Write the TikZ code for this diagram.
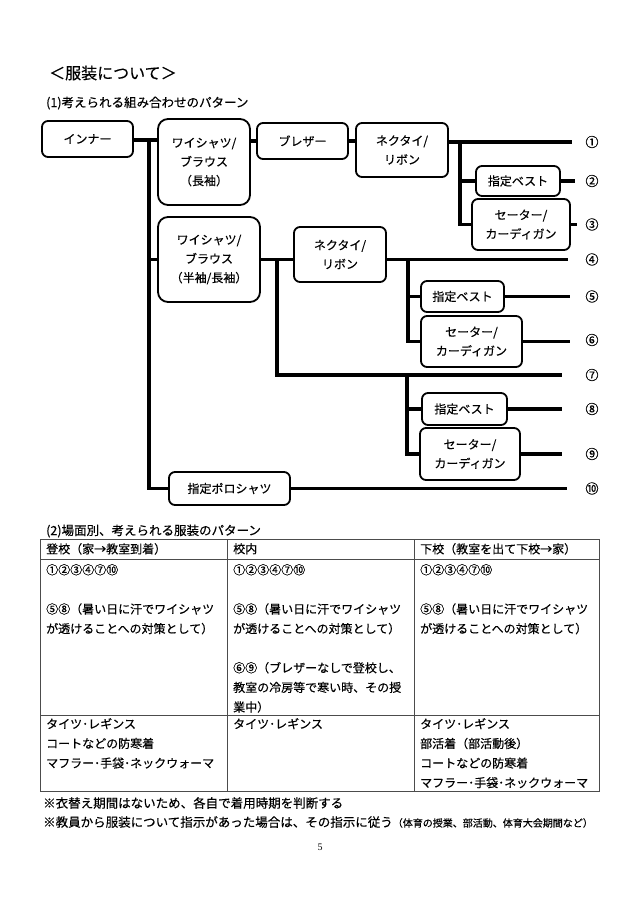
\documentclass[tikz,border=0pt]{standalone}
\usepackage{fontspec}
\setmainfont{Noto Sans CJK JP}[FakeBold=0.35]
\newfontfamily\pagenumfont{Liberation Serif}
\begin{document}
\begin{tikzpicture}[x=1pt,y=-1pt,
  box/.style={draw, line width=1.8pt, rounded corners=6pt, align=center,
    font=\fontsize{12}{19}\selectfont, inner sep=0pt},
  bigbox/.style={box, rounded corners=10pt},
  conn/.style={line width=3.8pt},
  num/.style={font=\fontsize{13}{13}\selectfont, inner sep=0pt},
  tline/.style={line width=0.9pt, draw=black!70},
  ttext/.style={anchor=north west, inner sep=0pt, align=left,
    font=\fontsize{12}{19.6}\selectfont},
  heading/.style={anchor=west, inner sep=0pt}
]
\useasboundingbox (0,0) rectangle (640,904);
\fill[white] (0,0) rectangle (640,904);

% headings
\node[heading, font=\fontsize{16}{16}\selectfont] (title) at (49,73) {＜服装について＞};
\node[heading, font=\fontsize{12.5}{12.5}\selectfont] (sec1) at (46,103) {(1)考えられる組み合わせのパターン};

% boxes
\node[box, minimum width=91pt, minimum height=36pt] (inner) at (87.5,139) {インナー};
\node[bigbox, minimum width=92pt, minimum height=86pt] (ws1) at (204,162) {ワイシャツ/\\ブラウス\\（長袖）};
\node[box, minimum width=91pt, minimum height=36pt] (blazer) at (302.5,141) {ブレザー};
\node[box, minimum width=92pt, minimum height=54pt] (tie1) at (402,150) {ネクタイ/\\リボン};
\node[box, minimum width=84pt, minimum height=30pt] (vest1) at (518,181) {指定ベスト};
\node[box, minimum width=98pt, minimum height=51pt] (sw1) at (521,224.5) {セーター/\\カーディガン};
\node[bigbox, minimum width=102pt, minimum height=85pt] (ws2) at (209,259.5) {ワイシャツ/\\ブラウス\\（半袖/長袖）};
\node[box, minimum width=92pt, minimum height=55pt] (tie2) at (340,254.5) {ネクタイ/\\リボン};
\node[box, minimum width=83pt, minimum height=31pt] (vest2) at (462.5,296.5) {指定ベスト};
\node[box, minimum width=101pt, minimum height=51pt] (sw2) at (471.5,341.5) {セーター/\\カーディガン};
\node[box, minimum width=85pt, minimum height=32pt] (vest3) at (464.5,409) {指定ベスト};
\node[box, minimum width=100pt, minimum height=52pt] (sw3) at (470,454) {セーター/\\カーディガン};
\node[box, minimum width=121pt, minimum height=33pt] (polo) at (229.5,488.5) {指定ポロシャツ};

% end numbers
\node[num] (n1) at (592,142) {①};
\node[num] (n2) at (592,181) {②};
\node[num] (n3) at (592,224.5) {③};
\node[num] (n4) at (592,259.5) {④};
\node[num] (n5) at (592,296.5) {⑤};
\node[num] (n6) at (592,340) {⑥};
\node[num] (n7) at (592,375) {⑦};
\node[num] (n8) at (592,409) {⑧};
\node[num] (n9) at (592,454) {⑨};
\node[num] (n10) at (592,488.5) {⑩};

% junction / end coordinates
\coordinate (j0) at (149,140);
\coordinate (j1) at (460,142);
\coordinate (j2) at (277,259.5);
\coordinate (j3) at (408,259.5);
\coordinate (j4) at (407,375);
\coordinate (e1) at (572,142);
\coordinate (e2) at (575,181);
\coordinate (e3) at (577,224.5);
\coordinate (e4) at (568,259.5);
\coordinate (e5) at (570,296.5);
\coordinate (e6) at (570,341.5);
\coordinate (e7) at (562,375);
\coordinate (e8) at (562,409);
\coordinate (e9) at (562,454);
\coordinate (e10) at (567,488.5);

% connectors
\draw[conn] (inner.east |- j0) -- (ws1.west |- j0);
\draw[conn] (j0) |- (polo.west);
\draw[conn] (j0 |- ws2.west) -- (ws2.west);
\draw[conn] (ws1.east |- blazer.west) -- (blazer.west);
\draw[conn] (blazer.east) -- (blazer.east -| tie1.west);
\draw[conn] (tie1.east |- e1) -- (e1);
\draw[conn] (j1) |- (sw1.west);
\draw[conn] (j1 |- vest1.west) -- (vest1.west);
\draw[conn] (vest1.east) -- (e2);
\draw[conn] (sw1.east) -- (e3);

\draw[conn] (ws2.east) -- (ws2.east -| tie2.west);
\draw[conn] (tie2.east |- e4) -- (e4);
\draw[conn] (j2) |- (e7);
\draw[conn] (j3) |- (sw2.west);
\draw[conn] (j3 |- vest2.west) -- (vest2.west);
\draw[conn] (vest2.east) -- (e5);
\draw[conn] (sw2.east) -- (e6);
\draw[conn] (j4) |- (sw3.west);
\draw[conn] (j4 |- vest3.west) -- (vest3.west);
\draw[conn] (vest3.east) -- (e8);
\draw[conn] (sw3.east) -- (e9);
\draw[conn] (polo.east) -- (e10);

% section 2
\node[heading, font=\fontsize{12.5}{12.5}\selectfont] (sec2) at (46,531) {(2)場面別、考えられる服装のパターン};

\draw[tline] (40,539) rectangle (599,791);
\draw[tline] (40,559) -- (599,559);
\draw[tline] (40,715) -- (599,715);
\draw[tline] (227,539) -- (227,791);
\draw[tline] (414,539) -- (414,791);

\node[ttext] (h1) at (46,543) {登校（家→教室到着）};
\node[ttext] (h2) at (233,543) {校内};
\node[ttext] (h3) at (420,543) {下校（教室を出て下校→家）};

\node[ttext] (c11) at (46,564) {①②③④⑦⑩\\[19.6pt]⑤⑧（暑い日に汗でワイシャツ\\が透けることへの対策として）};
\node[ttext] (c12) at (233,564) {①②③④⑦⑩\\[19.6pt]⑤⑧（暑い日に汗でワイシャツ\\が透けることへの対策として）\\[19.6pt]⑥⑨（ブレザーなしで登校し、\\教室の冷房等で寒い時、その授\\業中）};
\node[ttext] (c13) at (420,564) {①②③④⑦⑩\\[19.6pt]⑤⑧（暑い日に汗でワイシャツ\\が透けることへの対策として）};

\node[ttext] (c21) at (46,718) {タイツ･レギンス\\コートなどの防寒着\\マフラー･手袋･ネックウォーマ};
\node[ttext] (c22) at (233,718) {タイツ･レギンス};
\node[ttext] (c23) at (420,718) {タイツ･レギンス\\部活着（部活動後）\\コートなどの防寒着\\マフラー･手袋･ネックウォーマ};

% footer
\node[heading, font=\fontsize{12.5}{12.5}\selectfont] (f1) at (43,803) {※衣替え期間はないため、各自で着用時期を判断する};
\node[heading, font=\fontsize{12.5}{12.5}\selectfont] (f2) at (43,822) {※教員から服装について指示があった場合は、その指示に従う{\fontsize{10}{10}\selectfont（体育の授業、部活動、体育大会期間など）}};

\node[font=\pagenumfont\fontsize{10}{10}\selectfont, inner sep=0pt] (pg) at (320,847) {5};
\end{tikzpicture}
\end{document}
